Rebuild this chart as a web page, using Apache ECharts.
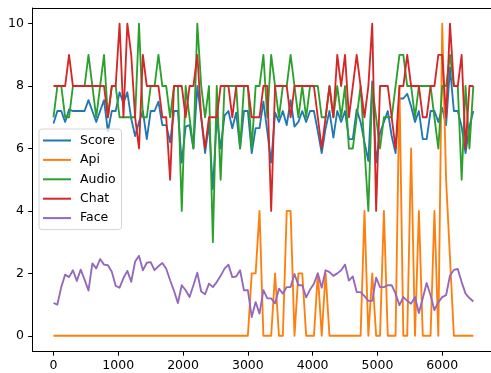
<!DOCTYPE html>
<html>
<head>
<meta charset="utf-8">
<script src="https://cdn.jsdelivr.net/npm/echarts@6/dist/echarts.min.js"></script>
<style>
html, body { margin: 0; padding: 0; background: #fff; }
#chart { width: 491px; height: 373px; }
</style>
</head>
<body>
<div id="chart"></div>
<script>
// sample times (seconds), one reading per minute
let times = [0,60,120,180,240,300,360,420,480,540,600,660,720,780,840,900,960,1020,1080,1140,
  1200,1260,1320,1380,1440,1500,1560,1620,1680,1740,1800,1860,1920,1980,2040,2100,2160,2220,2280,2340,
  2400,2460,2520,2580,2640,2700,2760,2820,2880,2940,3000,3060,3120,3180,3240,3300,3360,3420,3480,3540,
  3600,3660,3720,3780,3840,3900,3960,4020,4080,4140,4200,4260,4320,4380,4440,4500,4560,4620,4680,4740,
  4800,4860,4920,4980,5040,5100,5160,5220,5280,5340,5400,5460,5520,5580,5640,5700,5760,5820,5880,5940,
  6000,6060,6120,6180,6240,6300,6360,6420,6480];

let score = [6.8,7.2,7.2,6.85,7.25,7.2,7.2,7.2,7.2,7.55,
  7.2,6.85,7.2,7.55,6.55,7.2,7.2,7.8,7.45,7.8,
  6.95,6.4,6.85,7.2,6.3,7.2,7.2,7.5,6.75,6.75,
  6.2,7.2,7.2,5.55,6.7,6.75,6.0,8.0,7.0,5.85,
  6.8,4.7,7.0,6.0,7.05,7.2,6.65,7.15,6.0,7.2,
  7.2,5.85,6.65,6.65,7.5,6.55,5.55,7.15,6.85,7.2,
  6.75,7.55,6.7,6.85,7.2,6.85,7.2,7.2,6.55,5.85,
  6.65,7.2,6.35,7.2,6.85,7.2,6.3,6.3,7.25,6.85,
  6.2,5.6,8.15,5.55,6.5,6.85,7.2,6.4,5.85,7.6,
  7.6,7.75,7.35,6.85,7.2,6.3,6.3,7.2,7.2,6.85,
  7.3,6.75,8.6,7.2,7.2,6.7,5.85,6.7,7.2];

let api = [0,0,0,0,0,0,0,0,0,0,
  0,0,0,0,0,0,0,0,0,0,
  0,0,0,0,0,0,0,0,0,0,
  0,0,0,0,0,0,0,0,0,0,
  0,0,0,0,0,0,0,0,0,0,
  0,2,2,4,0,0,0,2,0,0,
  4,4,0,2,2,0,0,0,2,0,
  2,0,0,0,0,0,0,0,0,0,
  4,0,2,0,0,4,0,0,0,8,
  0,0,6,0,4,0,0,0,4,0,
  10,5,2.5,0,0,0,0,0,0];

let audio = [7,8,8,7,7,8,8,8,8,9,
  8,7,8,9,7,8,8,7,7,7,
  7,7,10,7,7,8,8,9,8,8,
  7,8,8,4,8,7,6,10,8,7,
  8,3,8,5,8,8,8,8,6,8,
  8,6,8,8,9,7,9,8,7,8,
  8,9,8,7,8,7,8,8,8,7,
  7,8,7,8,7,8,6,6,7,8,
  6,4,8,7,6,7,7,7,8,9,
  9,8,8,7,8,8,8,8,7,6,
  8,8,9,8,8,5,8,6,8];

let chat = [8,8,8,8,9,8,8,8,8,8,
  8,8,8,8,7,8,8,10,7,10,
  9,7,6,9,8,8,8,8,7,7,
  5,8,8,8,7,8,8,9,7,6,
  7,7,7,8,8,8,7,8,8,8,
  8,7,7,7,8,8,4,8,8,8,
  8,7,8,8,8,8,8,8,7,6,
  7,8,7,9,8,9,7,8,9,8,
  7,8,10,4,8,8,8,7,6,8,
  8,9,8,8,8,7,7,8,8,9,
  9,7,10,8,8,9,6,8,8];

let face = [1.05,1.0,1.56,1.96,1.88,2.1,1.76,2.12,1.8,1.45,
  2.32,2.16,2.46,2.28,2.26,2.05,1.6,1.54,1.85,2.08,
  1.73,2.38,2.56,2.1,2.34,2.36,2.1,2.23,2.33,2.15,
  1.78,1.44,1.05,1.62,1.46,1.24,1.62,2.02,1.42,1.33,
  1.67,1.56,1.72,1.92,2.15,2.28,1.88,1.9,2.1,1.46,
  1.46,0.6,1.08,0.71,1.46,1.2,1.2,1.04,1.51,1.35,
  1.56,1.56,1.98,1.62,1.62,1.23,1.48,1.67,2.0,1.54,
  2.1,2.04,1.92,2.0,2.1,2.28,1.77,1.9,1.4,1.4,
  1.27,1.12,1.12,1.86,1.56,1.56,1.62,1.62,1.35,0.98,
  1.24,1.12,1.03,1.24,0.73,1.2,1.69,1.3,0.82,1.08,
  1.24,1.3,1.93,2.11,2.14,1.72,1.35,1.21,1.1];

let seriesNames = ['Score', 'Api', 'Audio', 'Chat', 'Face'];
let seriesValues = [score, api, audio, chat, face];
let colors = ['#1f77b4', '#ff7f0e', '#2ca02c', '#d62728', '#9467bd'];

let xTicks = [0, 1000, 2000, 3000, 4000, 5000, 6000];
let yTicks = [0, 2, 4, 6, 8, 10];

let dom = document.getElementById('chart');
let myChart = echarts.init(dom, null, { renderer: 'canvas' });

let font = { color: '#000', fontSize: 12.5, fontFamily: 'DejaVu Sans' };
let plain = function (v) { return String(v); };

let option = {
    animation: false,
    color: colors,
    grid: { left: 32.5, right: 0, top: 8, bottom: 21.6 },
    legend: {
        data: seriesNames,
        orient: 'vertical',
        left: 39,
        top: 129,
        icon: 'rect',
        itemWidth: 28,
        itemHeight: 2,
        itemGap: 5.4,
        padding: [4.5, 6, 4.5, 4],
        backgroundColor: 'rgba(255,255,255,0.8)',
        borderColor: '#d6d6d6',
        borderWidth: 1,
        borderRadius: 3,
        textStyle: Object.assign({ lineHeight: 14, padding: [0, 0, 0, 4] }, font)
    },
    xAxis: [{
        type: 'value',
        min: -324,
        max: 6753,
        axisLine: { show: true, onZero: false, lineStyle: { color: '#000', width: 1 } },
        axisTick: { show: true, customValues: xTicks, length: 4.3, lineStyle: { color: '#000', width: 1 } },
        axisLabel: Object.assign({ customValues: xTicks, margin: 8, formatter: plain }, font),
        splitLine: { show: false }
    }, {
        type: 'value',
        position: 'top',
        min: -324,
        max: 6753,
        axisLine: { show: true, onZero: false, lineStyle: { color: '#000', width: 1 } },
        axisTick: { show: false },
        axisLabel: { show: false },
        splitLine: { show: false }
    }],
    yAxis: {
        type: 'value',
        min: -0.5,
        max: 10.5,
        axisLine: { show: true, onZero: false, lineStyle: { color: '#000', width: 1 } },
        axisTick: { show: true, customValues: yTicks, length: 4.3, lineStyle: { color: '#000', width: 1 } },
        axisLabel: Object.assign({ customValues: yTicks, margin: 8.6, formatter: plain }, font),
        splitLine: { show: false }
    },
    series: seriesNames.map(function (name, k) {
        return {
            name: name,
            type: 'line',
            xAxisIndex: 0,
            symbol: 'none',
            showSymbol: false,
            lineStyle: { width: 1.85, join: 'round' },
            emphasis: { disabled: true },
            data: times.map(function (t, i) { return [t, seriesValues[k][i]]; })
        };
    })
};

if (option && typeof option === "object") {
    myChart.setOption(option, true);
    window.addEventListener("resize", function () {
        myChart.resize();
    });
}
</script>
</body>
</html>
